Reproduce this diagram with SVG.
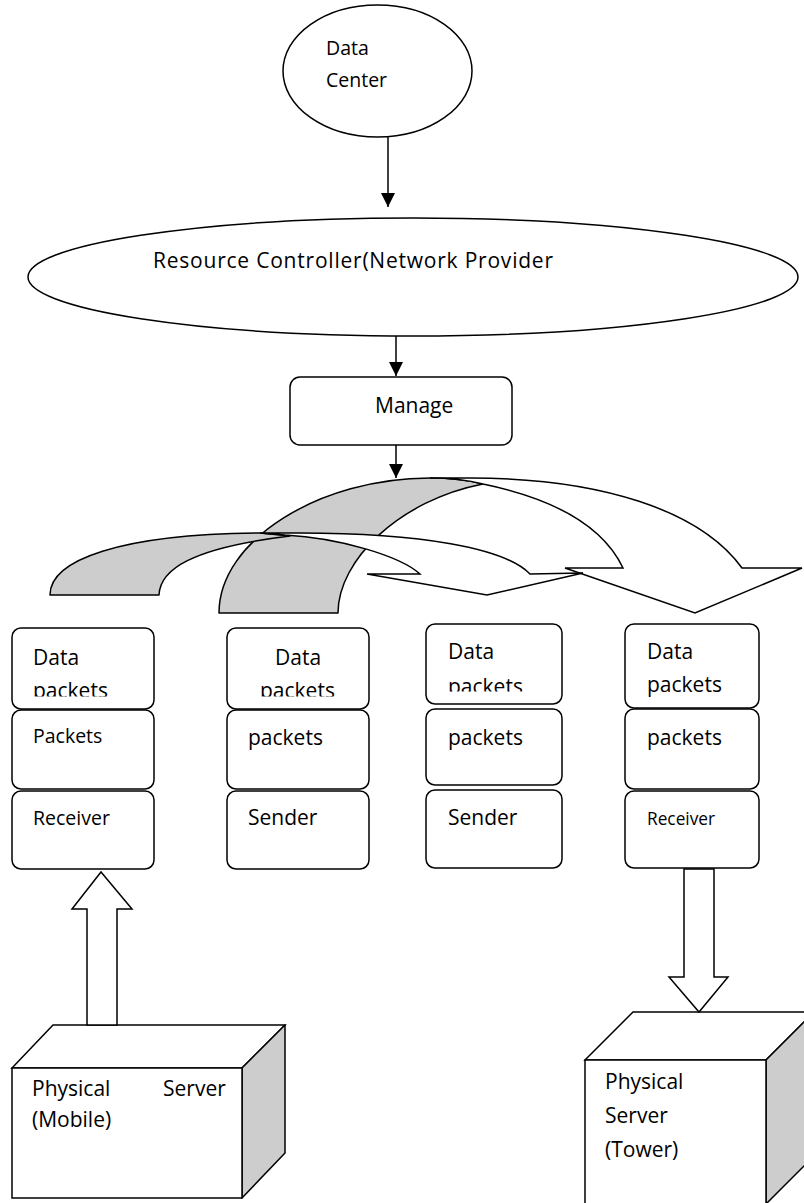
<svg xmlns="http://www.w3.org/2000/svg" width="804" height="1203" viewBox="0 0 804 1203">
  <style>
    .shape { fill: #ffffff; stroke: #000000; stroke-width: 1.5; }
    .shade { fill: #cdcdcd; stroke: #000000; stroke-width: 1.5; stroke-linejoin: round; }
    .band  { fill: #ffffff; stroke: #000000; stroke-width: 1.5; stroke-linejoin: miter; }
    .line  { fill: none; stroke: #000000; stroke-width: 1.5; }
    text   { font-family: "Open Sans", "Noto Sans", "Liberation Sans", sans-serif; font-size: 21px; fill: #000000; }
    .sm    { font-size: 19.5px; }
    .xs    { font-size: 17.3px; }
  </style>
  <defs>
    <marker id="head" viewBox="0 0 14 14" refX="14" refY="7" markerWidth="14" markerHeight="14" markerUnits="userSpaceOnUse" orient="auto">
      <path d="M0,0 L14,7 L0,14 z" fill="#000000"/>
    </marker>
    <clipPath id="clip1"><rect x="12" y="628" width="142" height="68.5"/></clipPath>
    <clipPath id="clip2"><rect x="227" y="628" width="142" height="68.5"/></clipPath>
    <clipPath id="clip3"><rect x="426" y="624" width="136" height="67.5"/></clipPath>
  </defs>

  <!-- top level nodes -->
  <g id="data-center">
    <ellipse class="shape" cx="377.5" cy="71" rx="94.5" ry="66"/>
    <text class="sm" x="326" y="55">Data</text>
    <text class="sm" x="326" y="87">Center</text>
  </g>

  <g id="resource-controller">
    <ellipse class="shape" cx="413" cy="277" rx="385" ry="59"/>
    <text x="153" y="268" font-size="21.5" textLength="400" lengthAdjust="spacing">Resource Controller(Network Provider</text>
  </g>

  <g id="manage">
    <rect class="shape" x="290" y="377" width="222" height="68" rx="10"/>
    <text x="375" y="413">Manage</text>
  </g>

  <!-- distribution arrows: large curved arrow, then the smaller one above it -->
  <g id="curved-arrows">
    <g id="curve-large">
      <path class="shade" d="M219,613 C219,540 320,478 430,478 Q460,478 483,484 C400,500 338,560 338,613 Z"/>
      <path class="band" d="M430,478 L470,478 C600,478 700,510 742,568 L802,568 L695,613 L565,568 L623,568 C605,530 560,500 483,484 Q460,478 430,478 Z"/>
    </g>
    <g id="curve-small">
      <path class="shade" d="M50,595 C50,560 120,534 260,533 L290,536 C190,548 160,570 159,595 Z"/>
      <path class="band" d="M260,533 L300,533 C420,533 505,548 530,574 L583,573 L487,595 L367,574 L420,574 C400,556 340,538 285,535 Z"/>
    </g>
  </g>

  <!-- column 1 -->
  <g id="col1-data">
    <rect class="shape" x="12" y="628" width="142" height="81" rx="9"/>
    <text x="33" y="665">Data</text>
    <text x="33" y="698" clip-path="url(#clip1)">packets</text>
  </g>
  <g id="col1-packets">
    <rect class="shape" x="12" y="710" width="142" height="79" rx="9"/>
    <text class="sm" x="33" y="743">Packets</text>
  </g>
  <g id="col1-role">
    <rect class="shape" x="12" y="791" width="142" height="78" rx="9"/>
    <text class="sm" x="33" y="825">Receiver</text>
  </g>

  <!-- column 2 -->
  <g id="col2-data">
    <rect class="shape" x="227" y="628" width="142" height="81" rx="9"/>
    <text x="275" y="665">Data</text>
    <text x="260" y="698" clip-path="url(#clip2)">packets</text>
  </g>
  <g id="col2-packets">
    <rect class="shape" x="227" y="710" width="142" height="79" rx="9"/>
    <text x="248" y="745">packets</text>
  </g>
  <g id="col2-role">
    <rect class="shape" x="227" y="791" width="142" height="78" rx="9"/>
    <text x="248" y="825">Sender</text>
  </g>

  <!-- column 3 -->
  <g id="col3-data">
    <rect class="shape" x="426" y="624" width="136" height="80" rx="9"/>
    <text x="448" y="659">Data</text>
    <text x="448" y="694" clip-path="url(#clip3)">packets</text>
  </g>
  <g id="col3-packets">
    <rect class="shape" x="426" y="709" width="136" height="76" rx="9"/>
    <text x="448" y="745">packets</text>
  </g>
  <g id="col3-role">
    <rect class="shape" x="426" y="790" width="136" height="78" rx="9"/>
    <text x="448" y="825">Sender</text>
  </g>

  <!-- column 4 -->
  <g id="col4-data">
    <rect class="shape" x="625" y="624" width="134" height="84" rx="9"/>
    <text x="647" y="659">Data</text>
    <text x="647" y="692">packets</text>
  </g>
  <g id="col4-packets">
    <rect class="shape" x="625" y="709" width="134" height="80" rx="9"/>
    <text x="647" y="745">packets</text>
  </g>
  <g id="col4-role">
    <rect class="shape" x="625" y="791" width="134" height="77" rx="9"/>
    <text class="xs" x="647" y="825">Receiver</text>
  </g>

  <!-- physical servers -->
  <g id="server-mobile">
    <polygon class="shape" points="12,1068 53,1025 285,1025 242,1068"/>
    <polygon class="shade" points="242,1068 285,1025 285,1153 242,1198"/>
    <rect class="shape" x="12" y="1068" width="230" height="130"/>
    <text x="32" y="1096">Physical</text>
    <text x="163" y="1096">Server</text>
    <text x="32" y="1127">(Mobile)</text>
  </g>

  <g id="server-tower">
    <polygon class="shape" points="585,1060 633,1012 814,1012 766,1060"/>
    <polygon class="shade" points="766,1060 814,1012 814,1156 766,1204"/>
    <rect class="shape" x="585" y="1060" width="181" height="146"/>
    <text x="605" y="1089">Physical</text>
    <text x="605" y="1123">Server</text>
    <text x="605" y="1157">(Tower)</text>
  </g>

  <!-- connectors -->
  <g id="connectors">
    <line class="line" x1="388" y1="137" x2="388" y2="207" marker-end="url(#head)"/>
    <line class="line" x1="396" y1="336" x2="396" y2="376" marker-end="url(#head)"/>
    <line class="line" x1="396" y1="445" x2="396" y2="478" marker-end="url(#head)"/>
    <polygon class="shape" points="87,1025 87,909 72,909 101,872 132,909 117,909 117,1025"/>
    <polygon class="shape" points="684,869 684,977 669,977 699,1012 728,977 714,977 714,869"/>
  </g>
</svg>
